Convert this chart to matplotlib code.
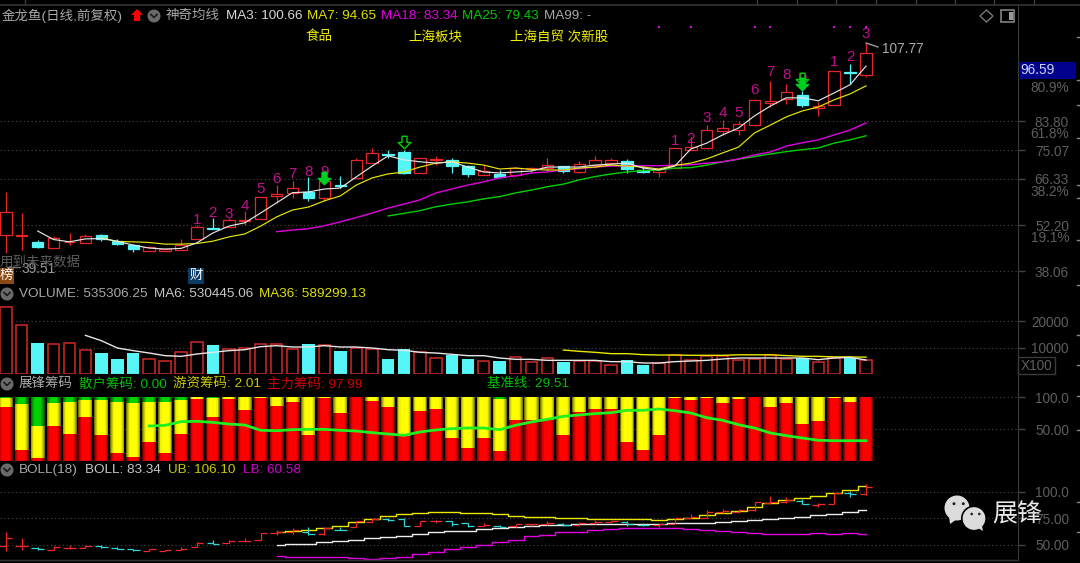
import matplotlib
matplotlib.use("Agg")
import matplotlib.pyplot as plt
from matplotlib.patches import Circle, Rectangle, Polygon
from matplotlib.path import Path

plt.rcParams['font.family'] = ['Liberation Sans', 'Noto Sans CJK SC', 'DejaVu Sans']

# daily prices, one entry per session
opens = [49.2, 48.9, 47.0, 45.2, 46.9, 46.8, 49.2, 47.3, 46.1, 44.3, 44.3, 44.6, 48.0, 51.3, 51.6,
         53.5, 54.1, 61.1, 62.0, 62.3, 60.5, 64.4, 66.6, 71.1, 74.0, 74.5, 68.1, 72.1, 72.1, 70.2,
         67.5, 67.8, 67.5, 69.3, 69.6, 70.1, 68.4, 70.5, 71.1, 71.6, 69.0, 68.4, 69.6, 75.1, 75.6,
         80.9, 81.2, 82.7, 89.3, 90.7, 91.9, 87.9, 88.8, 98.8, 98.0]
closes = [56.2, 49.2, 45.5, 48.3, 47.2, 48.9, 48.0, 46.4, 44.9, 45.5, 44.9, 46.1, 51.6, 51.0, 53.9,
          53.8, 60.8, 61.8, 63.5, 60.5, 65.7, 64.1, 72.1, 74.2, 73.7, 68.1, 72.7, 72.4, 70.1, 67.8,
          68.7, 66.9, 69.6, 69.6, 70.5, 68.7, 70.8, 71.9, 72.1, 69.3, 68.4, 69.3, 75.7, 76.0, 81.1,
          81.8, 83.0, 90.4, 90.1, 92.8, 88.8, 88.5, 99.1, 98.5, 104.8]
highs = [62.3, 55.9, 47.7, 48.9, 49.8, 49.5, 49.5, 48.0, 46.4, 45.8, 45.2, 48.0, 52.2, 54.4, 54.4,
         56.5, 60.8, 64.4, 65.7, 66.9, 67.2, 67.2, 72.7, 75.7, 75.1, 75.1, 72.7, 73.3, 72.7, 70.5,
         70.5, 69.0, 69.9, 69.8, 72.7, 70.2, 71.8, 73.3, 72.7, 72.4, 70.5, 69.9, 75.7, 79.1, 82.7,
         84.3, 84.0, 90.7, 96.2, 95.2, 93.1, 89.8, 99.2, 101.3, 107.77]
lows = [43.7, 44.6, 45.2, 45.2, 46.1, 46.8, 47.3, 46.1, 44.0, 44.3, 44.3, 44.6, 48.0, 51.0, 51.6,
        52.2, 54.0, 59.0, 60.5, 59.6, 59.6, 63.5, 66.6, 71.1, 72.7, 67.8, 68.1, 70.5, 68.1, 66.9,
        67.5, 66.6, 67.2, 68.1, 68.7, 68.1, 68.1, 69.6, 70.5, 68.1, 68.1, 66.9, 69.6, 75.1, 75.4,
        79.7, 79.7, 82.4, 88.2, 89.1, 88.2, 85.5, 88.8, 95.2, 97.4]

ma3 = [50.4, 47.8, 47.1, 48.0, 48.1, 47.3, 46.1, 45.2, 44.9, 45.1, 46.8, 49.8, 51.9, 52.9, 55.9,
       59.0, 62.1, 62.3, 63.2, 63.5, 66.9, 70.2, 73.3, 72.1, 71.5, 71.1, 71.5, 69.9, 68.4, 68.1,
       68.4, 68.7, 69.9, 69.9, 69.9, 70.5, 70.8, 71.1, 69.6, 69.0, 70.2, 75.4, 77.2, 79.7, 81.8,
       85.5, 88.5, 91.0, 91.0, 90.1, 92.5, 95.0, 100.66]
ma7 = [48.3, 47.2, 47.1, 46.9, 46.4, 46.4, 46.6, 47.3, 48.6, 49.5, 51.9, 54.7, 56.8, 57.7, 59.6,
       61.1, 64.4, 66.6, 67.8, 68.4, 69.9, 71.1, 71.5, 71.1, 70.5, 69.3, 69.6, 69.2, 69.0, 69.0,
       69.6, 69.9, 70.5, 70.2, 69.9, 69.3, 70.4, 71.1, 72.4, 74.2, 76.0, 80.3, 82.7, 85.2, 87.0,
       88.2, 90.4, 92.2, 94.65]
ma18 = [50.2, 50.7, 51.1, 52.0, 53.2, 54.5, 55.9, 57.4, 58.6, 59.9, 62.0, 63.2, 64.4, 65.4, 66.6,
        67.2, 68.1, 68.4, 69.0, 69.4, 69.9, 70.2, 70.3, 70.3, 70.3, 70.5, 70.6, 71.1, 71.5, 72.4,
        73.6, 74.5, 76.3, 77.3, 78.2, 79.7, 81.2, 83.34]
ma25 = [55.0, 55.8, 56.6, 57.8, 58.6, 59.3, 60.2, 60.9, 62.0, 62.9, 63.9, 64.7, 66.0, 67.0, 67.8,
        68.4, 68.8, 69.0, 69.6, 69.7, 70.5, 71.5, 72.3, 73.1, 73.9, 74.6, 75.2, 75.7, 77.2, 78.2,
        79.43]

# the numbered count above the candles
count_idx = [12, 13, 14, 15, 16, 17, 18, 19, 20, 42, 43, 44, 45, 46, 47, 48, 49, 50, 52, 53, 54]
count_txt = ['1', '2', '3', '4', '5', '6', '7', '8', '9', '1', '2', '3', '4', '5', '6', '7', '8', '9', '1', '2', '3']
count_price = [53.8, 55.9, 55.6, 58.0, 63.2, 66.3, 67.8, 68.4, 68.4, 77.9, 78.5, 84.9, 86.4, 86.4,
               93.4, 98.9, 98.0, 96.8, 102.0, 103.5, 110.5]
dot_idx = [41, 43, 47, 48, 52, 53, 54]
dot_price = [112.6] * len(dot_idx)

volume = [25470, 18500, 11780, 11280, 11660, 9120, 7860, 5830, 7980, 5700, 4810, 8240, 12160, 10900,
          9500, 9880, 11280, 11280, 9500, 11400, 10900, 8740, 9880, 9500, 5700, 9630, 8360, 6080,
          7100, 5830, 4810, 4940, 6460, 4430, 6080, 4430, 4810, 4810, 3420, 5320, 3550, 4050, 7350,
          5190, 6970, 6715, 5190, 5830, 7350, 5830, 5950, 4560, 6080, 6080, 5353]
vol_ma6 = [14700, 12670, 9880, 8870, 7980, 6970, 6715, 7600, 8240, 8870, 9250, 10390, 10770, 10260,
           10260, 10770, 10260, 10260, 9880, 9250, 9000, 8240, 7980, 7475, 6970, 6970, 6080, 5570,
           5570, 5190, 5190, 5190, 5190, 4690, 4690, 4180, 4180, 4690, 4940, 5190, 5700, 6080, 6080,
           6080, 6080, 6080, 5450, 6080, 6335, 5304]
vol_ma36 = [9120, 8620, 8240, 7730, 7730, 7350, 7220, 7220, 7100, 7100, 7100, 7300, 7300, 7300, 7000,
            6715, 6715, 6500, 6500, 6400]

# chip stack: red part, then yellow up to yellow_top, green above
red_top = [84.8, 17.8, 5.2, 54.5, 42.4, 69.1, 40.8, 12.6, 6.8, 29.8, 12.6, 42.4, 98.0, 68.6, 97.0,
           79.6, 99.0, 87.0, 92.0, 40.8, 99.0, 76.0, 100.0, 93.7, 84.8, 39.3, 78.5, 81.2, 35.6, 20.9,
           35.6, 15.7, 63.9, 65.0, 65.0, 40.8, 76.4, 81.2, 81.2, 29.8, 17.8, 40.8, 99.0, 95.3, 99.0,
           90.6, 97.0, 100.0, 84.8, 90.6, 58.6, 62.3, 99.0, 92.2, 100.0]
yellow_top = [99.5, 89.0, 55.0, 90.6, 92.2, 95.3, 95.3, 92.7, 90.6, 92.7, 92.7, 95.3, 100.0, 99.5, 100.0,
              100.0, 100.0, 100.0, 100.0, 100.0, 100.0, 100.0, 100.0, 100.0, 100.0, 100.0, 100.0, 100.0,
              100.0, 100.0, 100.0, 98.0, 100.0, 100.0, 100.0, 100.0, 100.0, 100.0, 100.0, 100.0, 100.0,
              100.0, 100.0, 100.0, 100.0, 100.0, 100.0, 100.0, 100.0, 100.0, 100.0, 100.0, 100.0, 100.0, 100.0]
chip_full = 101.0
base_line = [55.0, 56.0, 61.8, 62.3, 60.7, 58.0, 56.5, 48.2, 47.6, 49.2, 49.7, 49.7, 48.2, 47.1, 44.5,
             42.4, 40.3, 45.6, 48.7, 50.8, 51.8, 51.8, 49.2, 56.0, 61.3, 65.5, 70.2, 72.3, 74.4, 75.9,
             79.6, 79.6, 81.7, 79.0, 75.4, 68.0, 63.9, 57.0, 51.8, 44.0, 39.8, 36.1, 32.5, 31.9, 31.9, 31.9]

boll_mid = [50.0, 50.6, 50.9, 52.2, 53.4, 54.4, 55.9, 57.5, 58.4, 59.7, 61.6, 62.8, 63.4, 64.7, 66.3,
            67.2, 68.1, 68.4, 69.1, 69.4, 69.4, 69.7, 70.0, 70.0, 70.0, 70.3, 70.3, 70.3, 71.3, 72.2,
            73.4, 74.4, 75.3, 76.6, 77.8, 79.4, 80.9, 83.34]
boll_ub = [61.9, 63.4, 64.1, 65.6, 67.8, 71.3, 74.7, 77.5, 78.8, 80.0, 80.9, 80.9, 80.0, 79.7, 78.8,
           77.5, 76.6, 76.6, 75.3, 75.3, 74.4, 74.4, 74.4, 74.4, 73.4, 74.4, 75.3, 78.1, 79.7, 82.2,
           85.9, 89.7, 92.2, 94.7, 95.9, 99.1, 101.6, 106.1]
boll_lb = [39.7, 38.4, 38.4, 38.4, 38.4, 37.2, 36.3, 37.2, 38.75, 40.9, 43.4, 45.9, 47.8, 49.4, 52.2,
           54.7, 58.4, 59.4, 61.9, 61.9, 64.1, 65.0, 65.9, 65.9, 65.9, 65.9, 65.0, 63.8, 62.8, 61.9,
           60.9, 59.7, 59.7, 59.7, 60.9, 59.7, 60.9, 60.58]

price_ticks = [83.80, 75.07, 66.33, 52.20, 38.06]
vol_ticks = [20000, 10000]
chip_ticks = [100, 50]
boll_ticks = [100, 75, 50]

RED = '#e8262a'
CYAN = '#55f5f8'
WHITE = '#e6e6e6'
YELLOW = '#e8e800'
MAGENTA = '#e000e0'
GREY = '#5e5e5e'

W, H = 1080, 563
fig = plt.figure(figsize=(W / 100, H / 100), dpi=100, facecolor='black')


def panel(top, bottom, ylim, ticks, labels):
    ax = fig.add_axes([0, 1 - bottom / H, 1018 / W, (bottom - top) / H], facecolor='black')
    ax.set_xlim(-0.364, 63.54)
    ax.set_ylim(*ylim)
    for side in ['left', 'top']:
        ax.spines[side].set_visible(False)
    for side in ['right', 'bottom']:
        ax.spines[side].set_color('#3a3a3a')
    ax.set_xticks([])
    ax.yaxis.tick_right()
    ax.set_yticks(ticks, labels)
    ax.tick_params(axis='y', length=5, width=1, color='#444444', labelcolor=GREY, labelsize=9.8, pad=31.7)
    for t in ax.get_yticklabels():
        t.set_ha('right')
    ax.grid(axis='y', color='#4a4a4a', linestyle=(0, (1, 2.5)), linewidth=0.8)
    ax.set_axisbelow(True)
    return ax


def idx_from(series):
    return list(range(len(opens) - len(series), len(opens)))


ax_price = panel(5, 285, (33.94, 119.3), price_ticks, ['%.2f' % t for t in price_ticks])
ax_vol = panel(285, 374, (0, 33840), vol_ticks, [str(t) for t in vol_ticks])
ax_chip = panel(374, 461, (0, 136.6), chip_ticks, ['100.0', '50.00'])
ax_boll = panel(461, 560, (35.5, 129.4), boll_ticks, ['100.0', '75.00', '50.00'])

# main panel candles
for i in range(len(opens)):
    up = closes[i] >= opens[i]
    col = RED if up else CYAN
    ax_price.vlines(i, lows[i], highs[i], color=col, linewidth=0.9, zorder=2)
    ax_price.bar(i, abs(closes[i] - opens[i]), bottom=min(opens[i], closes[i]), width=0.72,
                 facecolor='black' if up else col, edgecolor=col, linewidth=0.9, zorder=3)

for series, col, lw in [(ma25, '#00d000', 1.0), (ma18, '#e000e0', 1.0), (ma7, YELLOW, 0.85), (ma3, WHITE, 0.85)]:
    ax_price.plot(idx_from(series), series, color=col, linewidth=lw, zorder=4)

for i, s, p in zip(count_idx, count_txt, count_price):
    ax_price.text(i, p, s, color='#c0108c', fontsize=11, ha='center', va='center', zorder=5)
ax_price.scatter(dot_idx, dot_price, s=3, color='#e000e0', marker='s', linewidths=0, zorder=5)

arrow = Path([(-0.4, 1), (0.4, 1), (0.4, 0), (1, 0), (0, -1), (-1, 0), (-0.4, 0), (-0.4, 1)], closed=False)
ax_price.plot([25], [77.5], marker=arrow, ms=9, mfc='none', mec='#00d000', mew=1, ls='none', zorder=6)
ax_price.plot([50], [96.8], marker=arrow, ms=9, mfc='none', mec='#00d000', mew=1, ls='none', zorder=6)
ax_price.plot([20, 50], [66.6, 95.2], marker=arrow, ms=9, mfc='#00d020', mec='#00d020', ls='none', zorder=6)

# volume panel
for i, v in enumerate(volume):
    if closes[i] >= opens[i]:
        ax_vol.bar(i, v, width=0.72, facecolor='black', edgecolor='#d02828', linewidth=1.1, zorder=2)
    else:
        ax_vol.bar(i, v, width=0.78, facecolor=CYAN, edgecolor='none', zorder=2)
ax_vol.plot(idx_from(vol_ma36), vol_ma36, color=YELLOW, linewidth=1, zorder=3)
ax_vol.plot(idx_from(vol_ma6), vol_ma6, color=WHITE, linewidth=1, zorder=4)

# chip panel, nested bars give the rounded shading
shades = [(0.88, '#6e0000', '#747400', '#005000'),
          (0.80, '#a00000', '#a8a800', '#007400'),
          (0.70, '#cc0000', '#d0d000', '#009400'),
          (0.58, '#ee0000', '#f0f000', '#00b000'),
          (0.44, '#ff0000', '#ffff00', '#00d000')]
for width, c_red, c_yel, c_grn in shades:
    for i in range(len(red_top)):
        ax_chip.bar(i, red_top[i], width=width, color=c_red, linewidth=0, zorder=2)
        ax_chip.bar(i, yellow_top[i] - red_top[i], bottom=red_top[i], width=width, color=c_yel, linewidth=0, zorder=2)
        ax_chip.bar(i, chip_full - yellow_top[i], bottom=yellow_top[i], width=width, color=c_grn, linewidth=0, zorder=2)
ax_chip.plot(idx_from(base_line), base_line, color='#20f020', linewidth=2, zorder=4)

# boll panel uses open/close ticks rather than candle bodies
for i in range(len(opens)):
    col = '#f02828' if closes[i] >= opens[i] else '#30d8d8'
    ax_boll.vlines(i, lows[i], highs[i], color=col, linewidth=0.9, zorder=3)
    ax_boll.hlines(opens[i], i - 0.4, i, color=col, linewidth=0.9, zorder=3)
    ax_boll.hlines(closes[i], i, i + 0.4, color=col, linewidth=0.9, zorder=3)
ax_boll.plot(idx_from(boll_mid), boll_mid, color='#eeeeee', linewidth=1, drawstyle='steps-mid', zorder=2)
ax_boll.plot(idx_from(boll_ub), boll_ub, color=YELLOW, linewidth=1, drawstyle='steps-mid', zorder=2)
ax_boll.plot(idx_from(boll_lb), boll_lb, color=MAGENTA, linewidth=1, drawstyle='steps-mid', zorder=2)

# overlay in pixels for the header texts and small furniture
ov = fig.add_axes([0, 0, 1, 1], zorder=10)
ov.set_xlim(0, W)
ov.set_ylim(H, 0)
ov.axis('off')


def label(x, y, s, color, size=9.7, ha='left'):
    ov.text(x, y, s, color=color, fontsize=size, ha=ha, va='center')


def chevron(x, y):
    ov.add_patch(Circle((x, y), 6.5, color='#6a6a6a', linewidth=0))
    ov.plot([x - 3, x, x + 3], [y - 1.5, y + 1.5, y - 1.5], color='#1a1a1a', linewidth=1.2)


label(2, 16, '金龙鱼(日线,前复权)', '#a8a8a8')
ov.add_patch(Polygon([(131, 15), (137, 9), (143, 15), (140, 15), (140, 21), (134, 21), (134, 15)], color='#ff0000', linewidth=0))
chevron(154, 16)
label(166, 16, '神奇均线', '#a8a8a8')
label(226, 16, 'MA3: 100.66', '#d8d8d8')
label(307, 16, 'MA7: 94.65', '#e0e000')
label(381, 16, 'MA18: 83.34', '#e000e0')
label(462, 16, 'MA25: 79.43', '#00c800')
label(544, 16, 'MA99: -', '#a8a8a8')
label(306, 37, '食品', '#f0f000')
label(408, 37, '上海板块', '#f0f000')
label(510, 37, '上海自贸 次新股', '#f0f000')

chevron(7, 294)
label(19, 294, 'VOLUME: 535306.25', '#a8a8a8')
label(154, 294, 'MA6: 530445.06', '#c8c8c8')
label(259, 294, 'MA36: 589299.13', '#e0e000')

chevron(7, 384)
label(19, 384, '展锋筹码', '#a8a8a8')
label(79, 384, '散户筹码: 0.00', '#00c000')
label(173, 384, '游资筹码: 2.01', '#c8c800')
label(267, 384, '主力筹码: 97.99', '#d00000')
label(487, 384, '基准线: 29.51', '#00c000')

chevron(7, 470)
label(19, 470, 'BOLL(18)', '#a8a8a8')
label(85, 470, 'BOLL: 83.34', '#c8c8c8')
label(168, 470, 'UB: 106.10', '#c8c800')
label(243, 470, 'LB: 60.58', '#d000d0')

# high / low callouts
ov.plot([866, 878], [43, 47], color='#999999', linewidth=1)
label(882, 49, '107.77', '#aaaaaa', 9.8)
ov.plot([7, 20], [267, 267], color='#777777', linewidth=1)
label(21, 269, '39.51', '#999999', 9.8)
label(0, 262, '用到未来数据', '#5c5c5c')
ov.text(6, 276, '榜', color='white', fontsize=9.7, ha='center', va='center',
        bbox=dict(boxstyle='square,pad=0.12', fc='#8a4a12', ec='none'))
ov.text(196, 276, '财', color='white', fontsize=9.7, ha='center', va='center',
        bbox=dict(boxstyle='square,pad=0.12', fc='#0a3a66', ec='none'))

# fibonacci percent labels beside the price ticks
for y, s in [(88, '80.9%'), (134, '61.8%'), (192, '38.2%'), (238, '19.1%')]:
    label(1069, y, s, GREY, 9.8, ha='right')

# last price box and scale box
ov.add_patch(Rectangle((1019, 62), 57, 17, color='#00008c', linewidth=0))
label(1020, 70, '96.59', '#c8d8ff', 9.8)
ov.add_patch(Rectangle((1018, 357), 37, 17, fill=False, edgecolor='#3a3a3a', linewidth=1))
label(1021, 366, 'X100', GREY, 9.8)

# toolbar icons and frame bits
ov.add_patch(Polygon([(980, 16), (986.5, 10), (993, 16), (986.5, 22)], fill=False, edgecolor='#777777', linewidth=1))
ov.add_patch(Rectangle((1001, 10), 13, 12, fill=False, edgecolor='#777777', linewidth=1.3))
ov.add_patch(Rectangle((1009, 12), 3.5, 8, color='#999999', linewidth=0))
ov.plot([0, W], [5, 5], color='#333333', linewidth=1.2)
ov.plot([0, 1018], [560, 560], color='#333333', linewidth=1)
for x in [25, 757, 797, 836, 876, 916, 955, 994, 1034]:
    ov.plot([x, x], [0, 4], color='#3a3a3a', linewidth=1)
for y in [37, 80, 105, 138, 185, 198, 240, 285, 335, 365, 396, 430, 502, 532]:
    ov.plot([1077, 1080], [y, y], color='#888888', linewidth=1)

# wechat mark
ov.add_patch(Circle((957, 508), 12.5, color='#dcdcdc', linewidth=0))
ov.add_patch(Polygon([(949, 516), (950, 524), (957, 519)], color='#dcdcdc', linewidth=0))
ov.add_patch(Circle((974, 518.5), 12.2, facecolor='#dcdcdc', edgecolor='black', linewidth=1.2))
ov.add_patch(Polygon([(978, 528), (983, 531), (982, 526)], color='#dcdcdc', linewidth=0))
for x, y, r in [(954, 503.7, 1.5), (963.3, 503.7, 1.5), (971.7, 514, 1.3), (979.3, 514, 1.3)]:
    ov.add_patch(Circle((x, y), r, color='#222222', linewidth=0))
label(992, 515, '展锋', '#e8e8e8', 18)

fig.savefig('out.png', dpi=100, facecolor='black')
